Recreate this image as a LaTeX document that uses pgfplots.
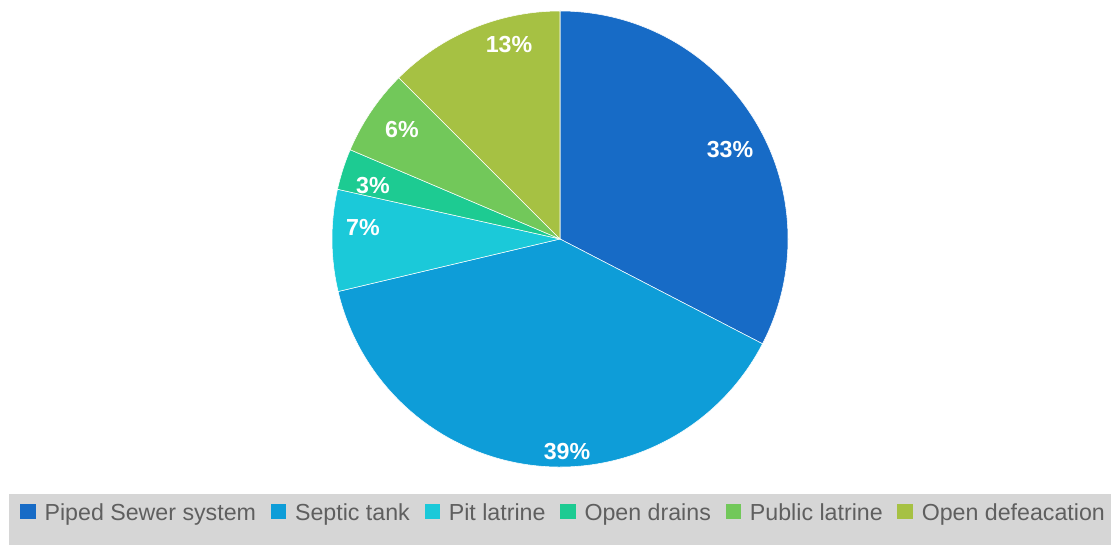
\documentclass[border=0pt]{standalone}
\usepackage{fontspec}
\setmainfont{Liberation Sans}
\usepackage{pgfplots}
\usepackage{pgfplotstable}
\pgfplotsset{compat=1.18}
\definecolor{pie0}{HTML}{176BC6}
\definecolor{pie1}{HTML}{0E9DD8}
\definecolor{pie2}{HTML}{1BC9D9}
\definecolor{pie3}{HTML}{1DCB92}
\definecolor{pie4}{HTML}{72C85A}
\definecolor{pie5}{HTML}{A6C143}
\definecolor{bandgray}{HTML}{D6D6D6}
\definecolor{legtext}{HTML}{5F5F5F}
\pgfplotstableread{
name value
Piped 32.6
Septic 38.7
Pit 7.2
Drains 2.9
Public 6.1
Defecation 12.5
}\piedata
\begin{document}
\begin{tikzpicture}
\pgfmathsetmacro\cum{0}
\pgfplotsforeachungrouped \i in {0,...,5}{%
  \pgfplotstablegetelem{\i}{value}\of\piedata%
  \pgfmathsetmacro\start{90-3.6*\cum}%
  \pgfmathsetmacro\cum{\cum+\pgfplotsretval}%
  \pgfmathsetmacro\stop{90-3.6*\cum}%
  \expandafter\xdef\csname pieS\i\endcsname{\start}%
  \expandafter\xdef\csname pieE\i\endcsname{\stop}%
}
\begin{axis}[
  x=0.75pt, y=0.75pt,
  xmin=0, xmax=1111, ymin=0, ymax=545,
  hide axis, clip=false,
  legend columns=6,
  legend image code/.code={\path[#1] (0pt,-4.5pt) rectangle (11.5pt,7pt);},
  legend style={at={(axis cs:20,32)}, anchor=west, draw=none, fill=none,
    inner sep=0pt, nodes={inner sep=0pt},
    font=\fontsize{17.4}{20}\selectfont, text=legtext,
    /tikz/every odd column/.append style={column sep=6.75pt},
    /tikz/every even column/.append style={column sep=11pt}},
]
\path (axis cs:0,0) rectangle (axis cs:1111,545);
\fill[bandgray] (axis cs:9,0) rectangle (axis cs:1111,51);
\pgfplotsinvokeforeach{0,...,5}{
  \fill[pie#1, draw=white, line width=0.4pt] (axis cs:560,306) -- ++(\csname pieS#1\endcsname:171pt)
    arc[start angle=\csname pieS#1\endcsname, end angle=\csname pieE#1\endcsname, radius=171pt] -- cycle;
}
\tikzset{pl/.style={font=\bfseries\fontsize{17.4}{20}\selectfont, text=white}}
\node[pl] at (axis cs:730,395) {33\%};
\node[pl] at (axis cs:567,93) {39\%};
\node[pl] at (axis cs:363,317) {7\%};
\node[pl] at (axis cs:373,359) {3\%};
\node[pl] at (axis cs:402,415) {6\%};
\node[pl] at (axis cs:509,500) {13\%};
\addlegendimage{fill=pie0, draw=none}
\addlegendentry{Piped Sewer system}
\addlegendimage{fill=pie1, draw=none}
\addlegendentry{Septic tank}
\addlegendimage{fill=pie2, draw=none}
\addlegendentry{Pit latrine}
\addlegendimage{fill=pie3, draw=none}
\addlegendentry{Open drains}
\addlegendimage{fill=pie4, draw=none}
\addlegendentry{Public latrine}
\addlegendimage{fill=pie5, draw=none}
\addlegendentry{Open defeacation}
\end{axis}
\end{tikzpicture}
\end{document}
